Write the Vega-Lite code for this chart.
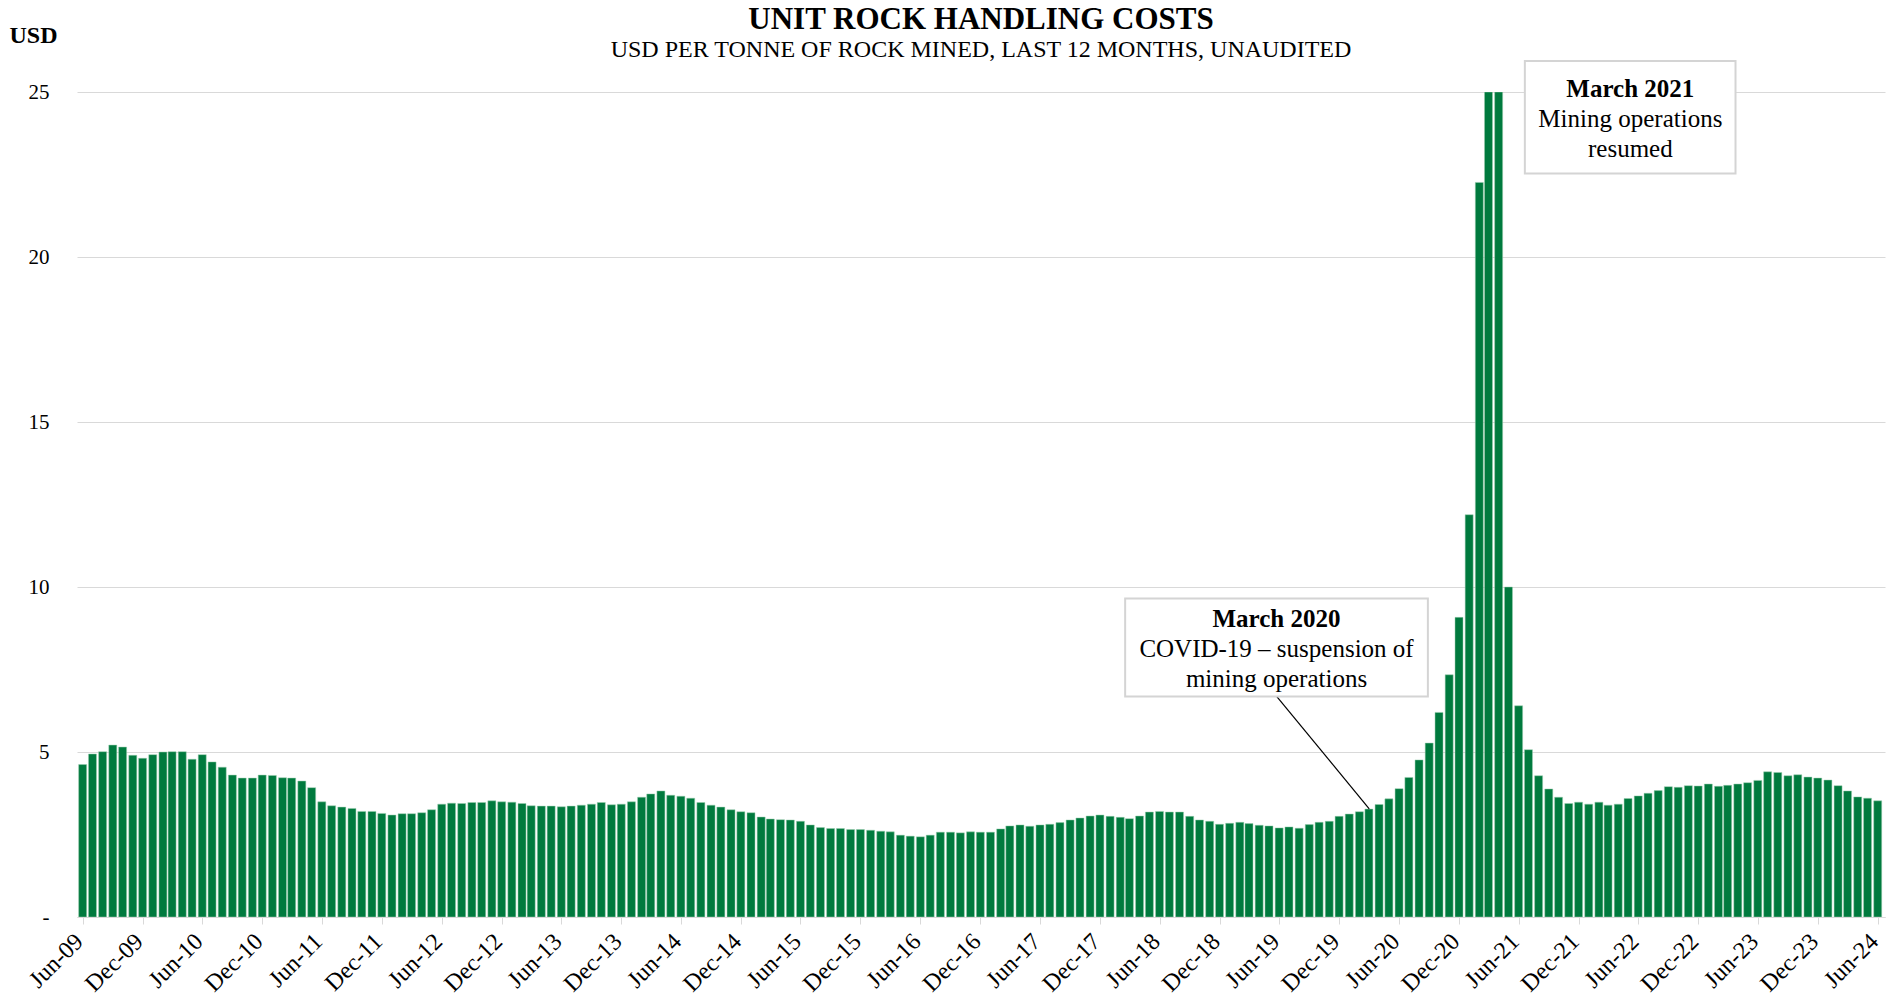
{
  "$schema": "https://vega.github.io/schema/vega-lite/v6.json",
  "autosize": {"type": "none"},
  "padding": {"left": 77, "top": 92, "right": 2, "bottom": 88},
  "width": 1808,
  "height": 825,
  "background": "white",
  "config": {"font": "Liberation Serif", "view": {"stroke": null}},
  "title": {
    "text": "UNIT ROCK HANDLING COSTS",
    "subtitle": "USD PER TONNE OF ROCK MINED, LAST 12 MONTHS, UNAUDITED",
    "anchor": "middle",
    "frame": "group",
    "font": "Liberation Serif",
    "fontSize": 31,
    "fontWeight": "bold",
    "color": "black",
    "subtitleFont": "Liberation Serif",
    "subtitleFontSize": 24,
    "subtitleColor": "black",
    "subtitlePadding": 2,
    "offset": -40
  },
  "datasets": {
    "bars": [
      {"month": "2009-06-01", "usd": 4.62}, {"month": "2009-07-01", "usd": 4.94}, {"month": "2009-08-01", "usd": 5.01}, {"month": "2009-09-01", "usd": 5.21}, {"month": "2009-10-01", "usd": 5.15}, {"month": "2009-11-01", "usd": 4.90}, {"month": "2009-12-01", "usd": 4.81},
      {"month": "2010-01-01", "usd": 4.92}, {"month": "2010-02-01", "usd": 5.00}, {"month": "2010-03-01", "usd": 5.01}, {"month": "2010-04-01", "usd": 5.01}, {"month": "2010-05-01", "usd": 4.78}, {"month": "2010-06-01", "usd": 4.92}, {"month": "2010-07-01", "usd": 4.70}, {"month": "2010-08-01", "usd": 4.54}, {"month": "2010-09-01", "usd": 4.30}, {"month": "2010-10-01", "usd": 4.21}, {"month": "2010-11-01", "usd": 4.21}, {"month": "2010-12-01", "usd": 4.30},
      {"month": "2011-01-01", "usd": 4.29}, {"month": "2011-02-01", "usd": 4.22}, {"month": "2011-03-01", "usd": 4.21}, {"month": "2011-04-01", "usd": 4.12}, {"month": "2011-05-01", "usd": 3.92}, {"month": "2011-06-01", "usd": 3.49}, {"month": "2011-07-01", "usd": 3.37}, {"month": "2011-08-01", "usd": 3.33}, {"month": "2011-09-01", "usd": 3.29}, {"month": "2011-10-01", "usd": 3.20}, {"month": "2011-11-01", "usd": 3.20}, {"month": "2011-12-01", "usd": 3.14},
      {"month": "2012-01-01", "usd": 3.09}, {"month": "2012-02-01", "usd": 3.13}, {"month": "2012-03-01", "usd": 3.13}, {"month": "2012-04-01", "usd": 3.16}, {"month": "2012-05-01", "usd": 3.25}, {"month": "2012-06-01", "usd": 3.42}, {"month": "2012-07-01", "usd": 3.45}, {"month": "2012-08-01", "usd": 3.44}, {"month": "2012-09-01", "usd": 3.47}, {"month": "2012-10-01", "usd": 3.47}, {"month": "2012-11-01", "usd": 3.52}, {"month": "2012-12-01", "usd": 3.49},
      {"month": "2013-01-01", "usd": 3.48}, {"month": "2013-02-01", "usd": 3.44}, {"month": "2013-03-01", "usd": 3.37}, {"month": "2013-04-01", "usd": 3.36}, {"month": "2013-05-01", "usd": 3.36}, {"month": "2013-06-01", "usd": 3.34}, {"month": "2013-07-01", "usd": 3.36}, {"month": "2013-08-01", "usd": 3.39}, {"month": "2013-09-01", "usd": 3.42}, {"month": "2013-10-01", "usd": 3.47}, {"month": "2013-11-01", "usd": 3.40}, {"month": "2013-12-01", "usd": 3.42},
      {"month": "2014-01-01", "usd": 3.49}, {"month": "2014-02-01", "usd": 3.63}, {"month": "2014-03-01", "usd": 3.73}, {"month": "2014-04-01", "usd": 3.82}, {"month": "2014-05-01", "usd": 3.69}, {"month": "2014-06-01", "usd": 3.66}, {"month": "2014-07-01", "usd": 3.60}, {"month": "2014-08-01", "usd": 3.47}, {"month": "2014-09-01", "usd": 3.39}, {"month": "2014-10-01", "usd": 3.33}, {"month": "2014-11-01", "usd": 3.25}, {"month": "2014-12-01", "usd": 3.19},
      {"month": "2015-01-01", "usd": 3.16}, {"month": "2015-02-01", "usd": 3.03}, {"month": "2015-03-01", "usd": 2.97}, {"month": "2015-04-01", "usd": 2.95}, {"month": "2015-05-01", "usd": 2.94}, {"month": "2015-06-01", "usd": 2.90}, {"month": "2015-07-01", "usd": 2.79}, {"month": "2015-08-01", "usd": 2.71}, {"month": "2015-09-01", "usd": 2.68}, {"month": "2015-10-01", "usd": 2.68}, {"month": "2015-11-01", "usd": 2.65}, {"month": "2015-12-01", "usd": 2.65},
      {"month": "2016-01-01", "usd": 2.63}, {"month": "2016-02-01", "usd": 2.60}, {"month": "2016-03-01", "usd": 2.58}, {"month": "2016-04-01", "usd": 2.48}, {"month": "2016-05-01", "usd": 2.45}, {"month": "2016-06-01", "usd": 2.43}, {"month": "2016-07-01", "usd": 2.48}, {"month": "2016-08-01", "usd": 2.57}, {"month": "2016-09-01", "usd": 2.57}, {"month": "2016-10-01", "usd": 2.55}, {"month": "2016-11-01", "usd": 2.58}, {"month": "2016-12-01", "usd": 2.57},
      {"month": "2017-01-01", "usd": 2.57}, {"month": "2017-02-01", "usd": 2.67}, {"month": "2017-03-01", "usd": 2.76}, {"month": "2017-04-01", "usd": 2.79}, {"month": "2017-05-01", "usd": 2.75}, {"month": "2017-06-01", "usd": 2.79}, {"month": "2017-07-01", "usd": 2.81}, {"month": "2017-08-01", "usd": 2.86}, {"month": "2017-09-01", "usd": 2.94}, {"month": "2017-10-01", "usd": 3.00}, {"month": "2017-11-01", "usd": 3.06}, {"month": "2017-12-01", "usd": 3.09},
      {"month": "2018-01-01", "usd": 3.05}, {"month": "2018-02-01", "usd": 3.02}, {"month": "2018-03-01", "usd": 2.98}, {"month": "2018-04-01", "usd": 3.06}, {"month": "2018-05-01", "usd": 3.18}, {"month": "2018-06-01", "usd": 3.20}, {"month": "2018-07-01", "usd": 3.18}, {"month": "2018-08-01", "usd": 3.18}, {"month": "2018-09-01", "usd": 3.05}, {"month": "2018-10-01", "usd": 2.94}, {"month": "2018-11-01", "usd": 2.90}, {"month": "2018-12-01", "usd": 2.81},
      {"month": "2019-01-01", "usd": 2.84}, {"month": "2019-02-01", "usd": 2.87}, {"month": "2019-03-01", "usd": 2.83}, {"month": "2019-04-01", "usd": 2.78}, {"month": "2019-05-01", "usd": 2.76}, {"month": "2019-06-01", "usd": 2.70}, {"month": "2019-07-01", "usd": 2.73}, {"month": "2019-08-01", "usd": 2.69}, {"month": "2019-09-01", "usd": 2.80}, {"month": "2019-10-01", "usd": 2.87}, {"month": "2019-11-01", "usd": 2.90}, {"month": "2019-12-01", "usd": 3.05},
      {"month": "2020-01-01", "usd": 3.12}, {"month": "2020-02-01", "usd": 3.19}, {"month": "2020-03-01", "usd": 3.27}, {"month": "2020-04-01", "usd": 3.41}, {"month": "2020-05-01", "usd": 3.58}, {"month": "2020-06-01", "usd": 3.89}, {"month": "2020-07-01", "usd": 4.23}, {"month": "2020-08-01", "usd": 4.76}, {"month": "2020-09-01", "usd": 5.27}, {"month": "2020-10-01", "usd": 6.20}, {"month": "2020-11-01", "usd": 7.34}, {"month": "2020-12-01", "usd": 9.08},
      {"month": "2021-01-01", "usd": 12.19}, {"month": "2021-02-01", "usd": 22.26}, {"month": "2021-03-01", "usd": 25}, {"month": "2021-04-01", "usd": 25}, {"month": "2021-05-01", "usd": 10.0}, {"month": "2021-06-01", "usd": 6.40}, {"month": "2021-07-01", "usd": 5.07}, {"month": "2021-08-01", "usd": 4.28}, {"month": "2021-09-01", "usd": 3.88}, {"month": "2021-10-01", "usd": 3.63}, {"month": "2021-11-01", "usd": 3.44}, {"month": "2021-12-01", "usd": 3.48},
      {"month": "2022-01-01", "usd": 3.42}, {"month": "2022-02-01", "usd": 3.48}, {"month": "2022-03-01", "usd": 3.39}, {"month": "2022-04-01", "usd": 3.42}, {"month": "2022-05-01", "usd": 3.59}, {"month": "2022-06-01", "usd": 3.67}, {"month": "2022-07-01", "usd": 3.75}, {"month": "2022-08-01", "usd": 3.83}, {"month": "2022-09-01", "usd": 3.95}, {"month": "2022-10-01", "usd": 3.93}, {"month": "2022-11-01", "usd": 3.98}, {"month": "2022-12-01", "usd": 3.97},
      {"month": "2023-01-01", "usd": 4.03}, {"month": "2023-02-01", "usd": 3.96}, {"month": "2023-03-01", "usd": 3.99}, {"month": "2023-04-01", "usd": 4.03}, {"month": "2023-05-01", "usd": 4.07}, {"month": "2023-06-01", "usd": 4.14}, {"month": "2023-07-01", "usd": 4.40}, {"month": "2023-08-01", "usd": 4.38}, {"month": "2023-09-01", "usd": 4.28}, {"month": "2023-10-01", "usd": 4.31}, {"month": "2023-11-01", "usd": 4.24}, {"month": "2023-12-01", "usd": 4.21},
      {"month": "2024-01-01", "usd": 4.15}, {"month": "2024-02-01", "usd": 3.98}, {"month": "2024-03-01", "usd": 3.82}, {"month": "2024-04-01", "usd": 3.64}, {"month": "2024-05-01", "usd": 3.60}, {"month": "2024-06-01", "usd": 3.52}
    ],
    "boxes": [
      {"x1": "2018-02-16", "x2": "2020-08-28", "y1": 6.68, "y2": 9.65},
      {"x1": "2021-06-20", "x2": "2023-03-25", "y1": 22.53, "y2": 25.94}
    ],
    "pointer": [
      {"x1": "2019-05-25", "y1": 6.68, "x2": "2020-03-02", "y2": 3.28}
    ],
    "notes": [
      {"month": "2019-05-24", "usd": 9.03, "text": "March 2020", "kind": "head"},
      {"month": "2019-05-24", "usd": 8.12, "text": "COVID-19 – suspension of", "kind": "body"},
      {"month": "2019-05-24", "usd": 7.21, "text": "mining operations", "kind": "body"},
      {"month": "2022-05-08", "usd": 25.1, "text": "March 2021", "kind": "head"},
      {"month": "2022-05-08", "usd": 24.17, "text": "Mining operations", "kind": "body"},
      {"month": "2022-05-08", "usd": 23.26, "text": "resumed", "kind": "body"}
    ]
  },
  "layer": [
    {
      "data": {"name": "bars"},
      "mark": {"type": "bar", "width": 8, "clip": true, "fill": "#007A3E", "stroke": "#9ccfb0", "strokeWidth": 0.5},
      "encoding": {
        "x": {
          "field": "month", "type": "temporal", "title": null,
          "scale": {"type": "utc", "domain": [{"year": 2009, "month": 5, "date": 30, "utc": true}, {"year": 2024, "month": 6, "date": 8, "utc": true}]},
          "axis": {
            "title": null,
            "values": [
              {"year": 2009, "month": 6, "date": 1, "utc": true}, {"year": 2009, "month": 12, "date": 1, "utc": true},
              {"year": 2010, "month": 6, "date": 1, "utc": true}, {"year": 2010, "month": 12, "date": 1, "utc": true},
              {"year": 2011, "month": 6, "date": 1, "utc": true}, {"year": 2011, "month": 12, "date": 1, "utc": true},
              {"year": 2012, "month": 6, "date": 1, "utc": true}, {"year": 2012, "month": 12, "date": 1, "utc": true},
              {"year": 2013, "month": 6, "date": 1, "utc": true}, {"year": 2013, "month": 12, "date": 1, "utc": true},
              {"year": 2014, "month": 6, "date": 1, "utc": true}, {"year": 2014, "month": 12, "date": 1, "utc": true},
              {"year": 2015, "month": 6, "date": 1, "utc": true}, {"year": 2015, "month": 12, "date": 1, "utc": true},
              {"year": 2016, "month": 6, "date": 1, "utc": true}, {"year": 2016, "month": 12, "date": 1, "utc": true},
              {"year": 2017, "month": 6, "date": 1, "utc": true}, {"year": 2017, "month": 12, "date": 1, "utc": true},
              {"year": 2018, "month": 6, "date": 1, "utc": true}, {"year": 2018, "month": 12, "date": 1, "utc": true},
              {"year": 2019, "month": 6, "date": 1, "utc": true}, {"year": 2019, "month": 12, "date": 1, "utc": true},
              {"year": 2020, "month": 6, "date": 1, "utc": true}, {"year": 2020, "month": 12, "date": 1, "utc": true},
              {"year": 2021, "month": 6, "date": 1, "utc": true}, {"year": 2021, "month": 12, "date": 1, "utc": true},
              {"year": 2022, "month": 6, "date": 1, "utc": true}, {"year": 2022, "month": 12, "date": 1, "utc": true},
              {"year": 2023, "month": 6, "date": 1, "utc": true}, {"year": 2023, "month": 12, "date": 1, "utc": true},
              {"year": 2024, "month": 6, "date": 1, "utc": true}
            ],
            "format": "%b-%y",
            "labelAngle": -45,
            "labelAlign": "right",
            "labelBaseline": "top",
            "labelFontSize": 24,
            "labelFont": "Liberation Serif",
            "labelColor": "black",
            "labelPadding": 5,
            "labelOffset": -12,
            "labelOverlap": false,
            "labelFlush": false,
            "tickColor": "#d9d9d9",
            "tickSize": 7,
            "domainColor": "#d9d9d9",
            "domainWidth": 1,
            "grid": false
          }
        },
        "y": {
          "field": "usd", "type": "quantitative", "title": "USD",
          "scale": {"domain": [0, 25], "nice": false},
          "axis": {
            "title": "USD",
            "titleAngle": 0,
            "titleAlign": "left",
            "titleBaseline": "middle",
            "titleX": -68,
            "titleY": -57,
            "titleFont": "Liberation Serif",
            "titleFontSize": 24,
            "titleFontWeight": "bold",
            "titleColor": "black",
            "values": [0, 5, 10, 15, 20, 25],
            "labelExpr": "datum.value === 0 ? '-' : datum.label",
            "labelFont": "Liberation Serif",
            "labelFontSize": 21,
            "labelColor": "black",
            "labelPadding": 28,
            "ticks": false,
            "domain": false,
            "grid": true,
            "gridColor": "#d9d9d9",
            "gridWidth": 1
          }
        }
      }
    },
    {
      "data": {"name": "pointer"},
      "mark": {"type": "rule", "color": "black", "strokeWidth": 1.2},
      "encoding": {
        "x": {"field": "x1", "type": "temporal", "title": null},
        "x2": {"field": "x2"},
        "y": {"field": "y1", "type": "quantitative", "title": "USD"},
        "y2": {"field": "y2"}
      }
    },
    {
      "data": {"name": "boxes"},
      "mark": {"type": "rect", "fill": "white", "stroke": "#d4d4d4", "strokeWidth": 2},
      "encoding": {
        "x": {"field": "x1", "type": "temporal", "title": null},
        "x2": {"field": "x2"},
        "y": {"field": "y1", "type": "quantitative", "title": "USD"},
        "y2": {"field": "y2"}
      }
    },
    {
      "data": {"name": "notes"},
      "transform": [{"filter": "datum.kind === 'head'"}],
      "mark": {"type": "text", "font": "Liberation Serif", "fontSize": 25, "fontWeight": "bold", "align": "center", "baseline": "middle", "color": "black"},
      "encoding": {
        "x": {"field": "month", "type": "temporal", "title": null},
        "y": {"field": "usd", "type": "quantitative", "title": "USD"},
        "text": {"field": "text"}
      }
    },
    {
      "data": {"name": "notes"},
      "transform": [{"filter": "datum.kind === 'body'"}],
      "mark": {"type": "text", "font": "Liberation Serif", "fontSize": 25, "align": "center", "baseline": "middle", "color": "black"},
      "encoding": {
        "x": {"field": "month", "type": "temporal", "title": null},
        "y": {"field": "usd", "type": "quantitative", "title": "USD"},
        "text": {"field": "text"}
      }
    }
  ]
}
